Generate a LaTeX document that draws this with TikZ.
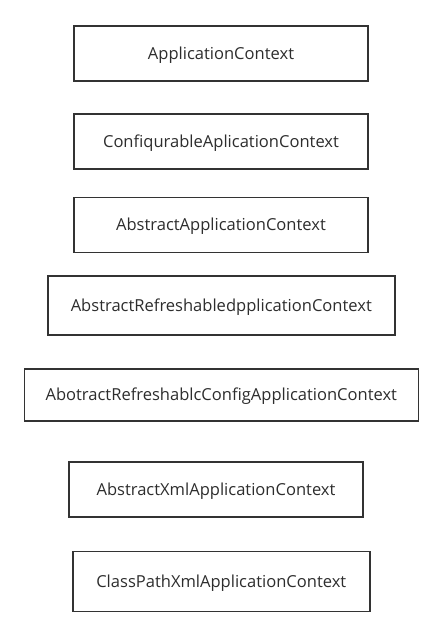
\documentclass[tikz,border=0pt]{standalone}
\usepackage{fontspec}
\setmainfont{Open Sans}
\definecolor{boxline}{RGB}{51,51,51}
\definecolor{boxtext}{RGB}{45,45,45}
\tikzset{every picture/.style={line width=1.1pt}}
\tikzset{classbox/.style={draw=boxline, text=boxtext, inner sep=0pt, text height=8.8pt, text depth=0pt, font=\fontsize{12.4pt}{14pt}\selectfont}}

\begin{document}
\begin{tikzpicture}[x=0.75pt,y=0.75pt,yscale=-1,xscale=1]
\useasboundingbox (0,0) rectangle (443,635);

% Class boxes
\node [classbox, minimum width=220.5pt, minimum height=41.25pt] (appctx) at (221,53.5) {ApplicationContext};
\node [classbox, minimum width=220.5pt, minimum height=41.25pt] (confctx) at (221,141.5) {ConfiqurableAplicationContext};
\node [classbox, minimum width=220.5pt, minimum height=41.25pt] (absctx) at (221,225) {AbstractApplicationContext};
\node [classbox, minimum width=260.25pt, minimum height=44.25pt] (refctx) at (221.3,305.5) {AbstractRefreshabledpplicationContext};
\node [classbox, minimum width=295.5pt, minimum height=39pt] (cfgctx) at (221.3,395) {AbotractRefreshablcConfigApplicationContext};
\node [classbox, minimum width=220.5pt, minimum height=41.25pt] (xmlctx) at (216,489.5) {AbstractXmlApplicationContext};
\node [classbox, minimum width=222.75pt, minimum height=45pt] (cpctx) at (221.3,581.5) {ClassPathXmlApplicationContext};

\end{tikzpicture}
\end{document}
